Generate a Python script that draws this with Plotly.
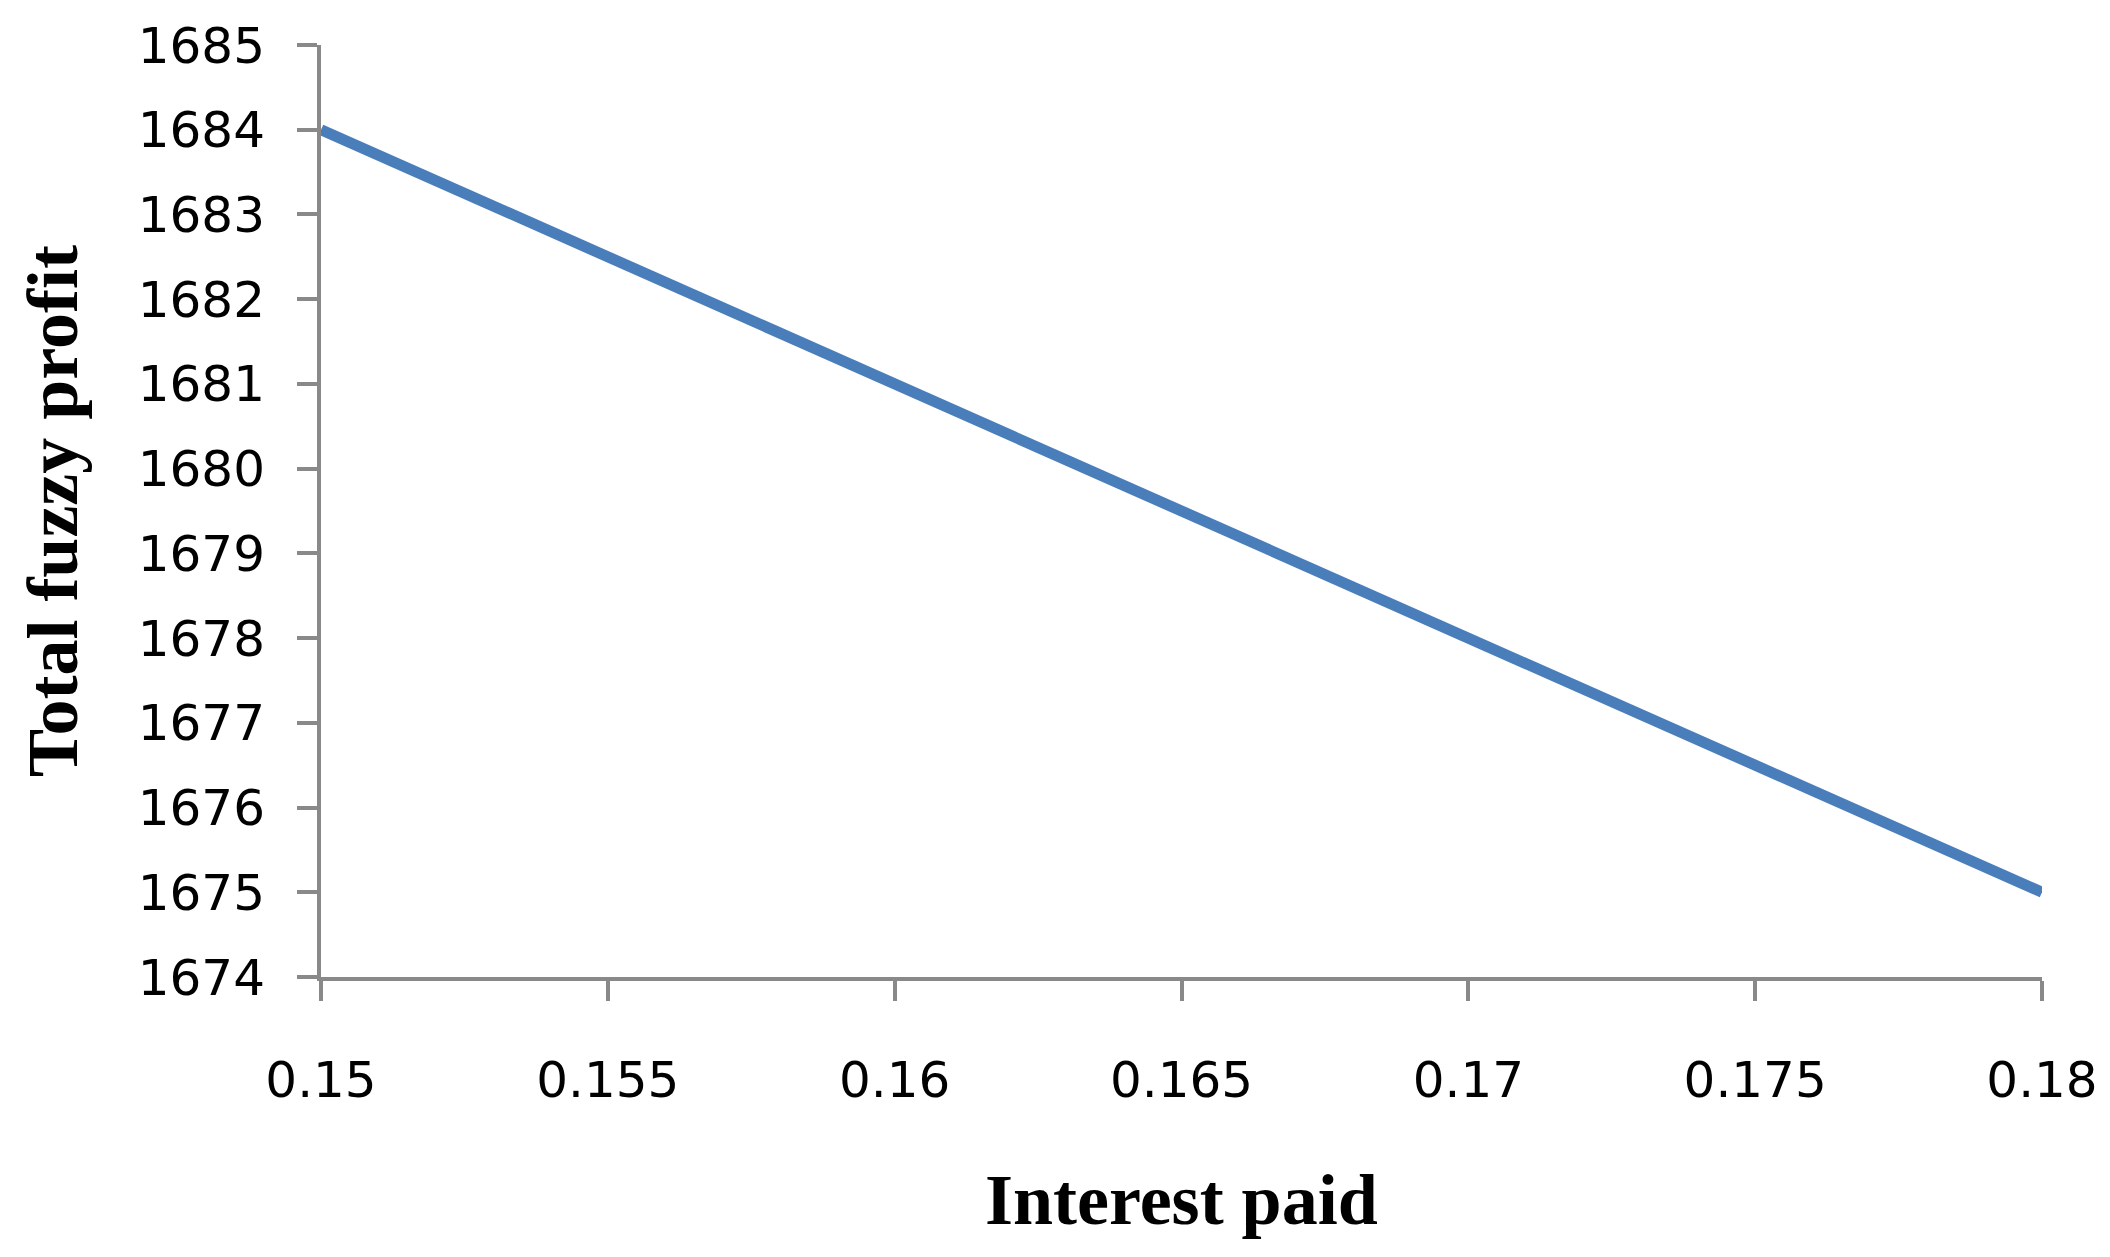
import plotly.graph_objects as go

# Data
interest_paid = [0.15, 0.155, 0.16, 0.165, 0.17, 0.175, 0.18]
total_fuzzy_profit = [1684, 1682.5, 1681, 1679.5, 1678, 1676.5, 1675]
x_tick_vals = [0.15, 0.155, 0.16, 0.165, 0.17, 0.175, 0.18]
x_tick_text = ["0.15", "0.155", "0.16", "0.165", "0.17", "0.175", "0.18"]
y_tick_vals = [1674, 1675, 1676, 1677, 1678, 1679, 1680, 1681, 1682, 1683, 1684, 1685]
x_title = "Interest paid"
y_title = "Total fuzzy profit"

# page body has an 8px default margin; figure coordinates are offset by it
OFF = 8
W, H = 2110 - OFF, 1257 - OFF
L, T = 321 - OFF, 45 - OFF
R = W - (2042 - OFF)
B = H - (977 - OFF)
pw, ph = W - L - R, H - T - B

fig = go.Figure()
fig.add_trace(go.Scatter(
    x=interest_paid, y=total_fuzzy_profit, mode="lines",
    line=dict(color="#4A7EBB", width=11), showlegend=False,
))

axis_common = dict(
    showgrid=False, zeroline=False, showline=True, linecolor="#898989", linewidth=4,
    ticks="outside", ticklen=20, tickwidth=4, tickcolor="#898989",
    tickfont=dict(family="DejaVu Sans", size=50, color="#000000"),
)
fig.update_xaxes(range=[0.15, 0.18], tickvals=x_tick_vals, ticktext=x_tick_text,
                 ticklabelstandoff=36, **axis_common)
fig.update_yaxes(range=[1674, 1685], tickvals=y_tick_vals,
                 ticklabelstandoff=22, **axis_common)


def px_to_paper_x(sx):
    return (sx - OFF - L) / pw


def px_to_paper_y(sy):
    return (T + ph - (sy - OFF)) / ph


fig.add_annotation(text="<b>" + x_title + "</b>", xref="paper", yref="paper",
                   x=px_to_paper_x(1181), y=px_to_paper_y(1200),
                   xanchor="center", yanchor="middle", showarrow=False,
                   font=dict(family="Liberation Serif", size=72, color="#000000"))
fig.add_annotation(text="<b>" + y_title + "</b>", xref="paper", yref="paper",
                   x=px_to_paper_x(53), y=px_to_paper_y(511), textangle=-90,
                   xanchor="center", yanchor="middle", showarrow=False,
                   font=dict(family="Liberation Serif", size=72, color="#000000"))

fig.update_layout(
    width=W, height=H, margin=dict(l=L, r=R, t=T, b=B, autoexpand=False),
    paper_bgcolor="white", plot_bgcolor="white",
)
fig.write_html("out.html")
